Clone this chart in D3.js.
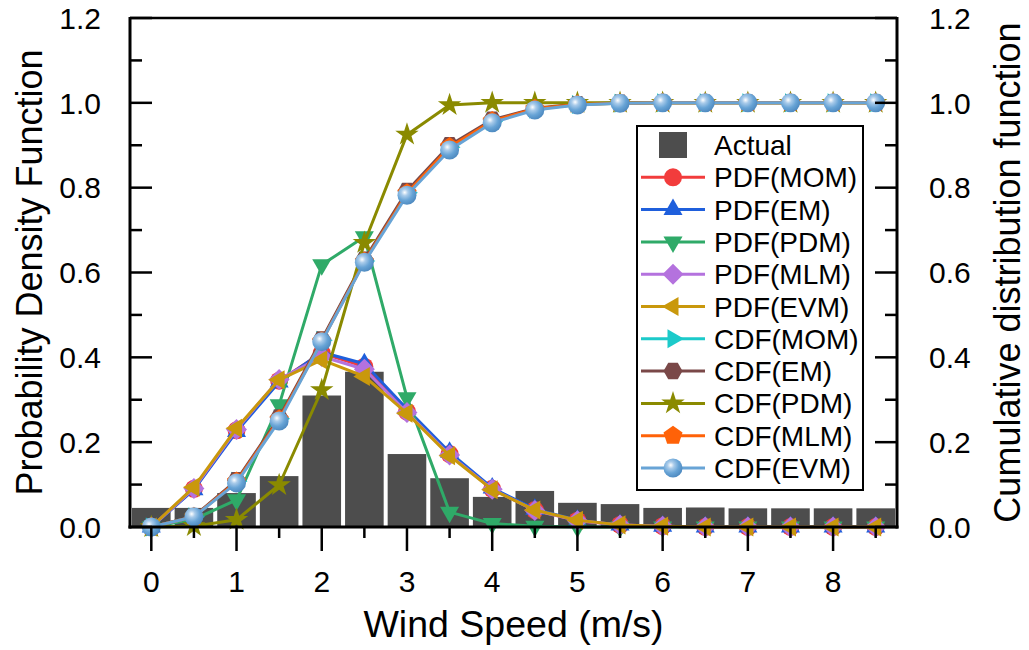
<!DOCTYPE html>
<html>
<head>
<meta charset="utf-8">
<script src="https://cdn.jsdelivr.net/npm/d3@7/dist/d3.min.js"></script>
<style>
  html, body { margin: 0; padding: 0; background: #fff; }
  svg { display: block; }
  text { font-family: "Liberation Sans", Arial, sans-serif; fill: #000; }
</style>
</head>
<body>
<svg id="chart" width="1029" height="650"></svg>
<script>
// Wind speed bins (m/s)
const speeds = [0, 0.5, 1, 1.5, 2, 2.5, 3, 3.5, 4, 4.5, 5, 5.5, 6, 6.5, 7, 7.5, 8, 8.5];

// Observed frequency (histogram)
const actual = [0.045, 0.045, 0.080, 0.120, 0.310, 0.366, 0.172, 0.115, 0.071, 0.085, 0.057, 0.054, 0.045, 0.046, 0.044, 0.044, 0.044, 0.044];

// Fitted probability density functions
const pdfMOM = [0, 0.090, 0.228, 0.345, 0.410, 0.378, 0.272, 0.172, 0.090, 0.040, 0.015, 0.005, 0.002, 0, 0, 0, 0, 0];
const pdfEM  = [0, 0.088, 0.225, 0.342, 0.412, 0.385, 0.278, 0.176, 0.092, 0.042, 0.016, 0.005, 0.002, 0, 0, 0, 0, 0];
const pdfPDM = [0, 0.018, 0.064, 0.288, 0.618, 0.684, 0.305, 0.035, 0.008, 0.002, 0, 0, 0, 0, 0, 0, 0, 0];
const pdfMLM = [0, 0.091, 0.230, 0.348, 0.402, 0.372, 0.270, 0.170, 0.089, 0.039, 0.015, 0.005, 0.002, 0, 0, 0, 0, 0];
const pdfEVM = [0, 0.094, 0.233, 0.347, 0.394, 0.355, 0.268, 0.168, 0.088, 0.040, 0.016, 0.005, 0.002, 0, 0, 0, 0, 0];

// Fitted cumulative distribution functions
const cdfMOM = [0, 0.024, 0.108, 0.255, 0.440, 0.627, 0.788, 0.895, 0.956, 0.985, 0.996, 0.999, 1, 1, 1, 1, 1, 1];
const cdfEM  = [0, 0.025, 0.110, 0.258, 0.442, 0.630, 0.792, 0.900, 0.960, 0.987, 0.997, 1, 1, 1, 1, 1, 1, 1];
const cdfPDM = [0, 0.002, 0.017, 0.099, 0.323, 0.670, 0.925, 0.995, 1, 1, 1, 1, 1, 1, 1, 1, 1, 1];
const cdfMLM = [0, 0.024, 0.107, 0.254, 0.438, 0.626, 0.787, 0.896, 0.957, 0.986, 0.996, 0.999, 1, 1, 1, 1, 1, 1];
const cdfEVM = [0, 0.024, 0.104, 0.250, 0.437, 0.624, 0.782, 0.889, 0.953, 0.983, 0.995, 0.999, 1, 1, 1, 1, 1, 1];

const xTicks = [0, 1, 2, 3, 4, 5, 6, 7, 8];
const yTicks = [0, 0.2, 0.4, 0.6, 0.8, 1.0, 1.2];

const series = [
  { name: "PDF(MOM)", values: pdfMOM, color: "#f23c3c", marker: "circle" },
  { name: "PDF(EM)",  values: pdfEM,  color: "#1f5fdc", marker: "triUp" },
  { name: "PDF(PDM)", values: pdfPDM, color: "#2faa68", marker: "triDown" },
  { name: "PDF(MLM)", values: pdfMLM, color: "#b472de", marker: "diamond" },
  { name: "PDF(EVM)", values: pdfEVM, color: "#c9980c", marker: "triLeft" },
  { name: "CDF(MOM)", values: cdfMOM, color: "#1ccaca", marker: "triRight" },
  { name: "CDF(EM)",  values: cdfEM,  color: "#7a4848", marker: "hexagon" },
  { name: "CDF(PDM)", values: cdfPDM, color: "#8a8a00", marker: "star" },
  { name: "CDF(MLM)", values: cdfMLM, color: "#ff6208", marker: "pentagon" },
  { name: "CDF(EVM)", values: cdfEVM, color: "#68a4d6", marker: "sphere" }
];

const svg = d3.select("#chart");
const plotL = 130, plotR = 897, plotT = 18, plotB = 527;

const x = d3.scaleLinear().domain([-0.25, 8.75]).range([plotL, plotR]);
const yL = d3.scaleLinear().domain([0, 1.2]).range([plotB, plotT]);
const yR = d3.scaleLinear().domain([0, 1.2]).range([plotB, plotT]);

// sphere shading
const defs = svg.append("defs");
const grad = defs.append("radialGradient").attr("id", "sphere")
  .attr("cx", "0.38").attr("cy", "0.35").attr("r", "0.7");
grad.append("stop").attr("offset", "0").attr("stop-color", "#ffffff");
grad.append("stop").attr("offset", "0.25").attr("stop-color", "#a9cbea");
grad.append("stop").attr("offset", "0.6").attr("stop-color", "#68a4d6");
grad.append("stop").attr("offset", "1").attr("stop-color", "#4a86bd");

function polygon(n, r, rot) {
  const pts = [];
  for (let i = 0; i < n; i++) {
    const a = rot + i * 2 * Math.PI / n;
    pts.push([r * Math.cos(a), r * Math.sin(a)]);
  }
  return "M" + pts.map(p => p[0].toFixed(2) + "," + p[1].toFixed(2)).join("L") + "Z";
}

function markerPath(type) {
  const R = 11;
  switch (type) {
    case "triUp":    return polygon(3, R, -Math.PI / 2);
    case "triDown":  return polygon(3, R, Math.PI / 2);
    case "triLeft":  return polygon(3, R, Math.PI);
    case "triRight": return polygon(3, R, 0);
    case "diamond":  return polygon(4, 10.5, -Math.PI / 2);
    case "hexagon":  return polygon(6, 9.5, 0);
    case "pentagon": return polygon(5, 10, -Math.PI / 2);
    case "star":     return d3.symbol(d3.symbolStar, 170)();
    default:         return null;
  }
}

function drawMarker(g, type, color, cx, cy) {
  if (type === "circle") {
    g.append("circle").attr("cx", cx).attr("cy", cy).attr("r", 9).attr("fill", color);
  } else if (type === "sphere") {
    g.append("circle").attr("cx", cx).attr("cy", cy).attr("r", 9.5).attr("fill", "url(#sphere)");
  } else {
    g.append("path").attr("d", markerPath(type))
      .attr("transform", `translate(${cx},${cy})`).attr("fill", color);
  }
}

// histogram bars
const half = (x(0.5) - x(0)) / 2;
svg.append("g").selectAll("rect").data(speeds).join("rect")
  .attr("x", (d) => x(d) - half + 2)
  .attr("width", half * 2 - 4)
  .attr("y", (d, i) => yL(actual[i]))
  .attr("height", (d, i) => yL(0) - yL(actual[i]))
  .attr("fill", "#4d4d4d");

// fitted curves
const line = d3.line();
series.forEach((s) => {
  const yS = s.name.startsWith("PDF") ? yL : yR;
  const pts = speeds.map((v, i) => [x(v), yS(s.values[i])]);
  const g = svg.append("g");
  g.append("path").attr("d", line(pts)).attr("fill", "none")
    .attr("stroke", s.color).attr("stroke-width", 3).attr("stroke-linejoin", "round");
  pts.forEach((p) => drawMarker(g, s.marker, s.color, p[0], p[1]));
});

// axes
const axisW = 3;
// frame top
svg.append("line").attr("x1", plotL).attr("x2", plotR).attr("y1", plotT).attr("y2", plotT)
  .attr("stroke", "#000").attr("stroke-width", 2.5);

// left axis
const gl = svg.append("g");
gl.append("line").attr("x1", plotL).attr("x2", plotL).attr("y1", plotT - 1).attr("y2", plotB + 1.5)
  .attr("stroke", "#000").attr("stroke-width", axisW);
d3.range(0, 13).forEach((k) => {
  const v = k / 10;
  const major = k % 2 === 0;
  gl.append("line").attr("x1", plotL).attr("x2", plotL + (major ? 22 : 12))
    .attr("y1", yL(v)).attr("y2", yL(v)).attr("stroke", "#000").attr("stroke-width", 2.5);
});
gl.selectAll("text").data(yTicks).join("text")
  .attr("x", 101).attr("y", (d) => yL(d)).attr("dy", "0.36em")
  .attr("text-anchor", "end").attr("font-size", 30)
  .text((d) => d.toFixed(1));

// right axis
const gr = svg.append("g");
gr.append("line").attr("x1", plotR).attr("x2", plotR).attr("y1", plotT - 1).attr("y2", plotB + 1.5)
  .attr("stroke", "#000").attr("stroke-width", axisW);
d3.range(0, 13).forEach((k) => {
  const v = k / 10;
  const major = k % 2 === 0;
  gr.append("line").attr("x1", plotR).attr("x2", plotR - (major ? 22 : 12))
    .attr("y1", yR(v)).attr("y2", yR(v)).attr("stroke", "#000").attr("stroke-width", 2.5);
});
gr.selectAll("text").data(yTicks).join("text")
  .attr("x", 929).attr("y", (d) => yR(d)).attr("dy", "0.36em")
  .attr("text-anchor", "start").attr("font-size", 30)
  .text((d) => d.toFixed(1));

// bottom axis
const gb = svg.append("g");
gb.append("line").attr("x1", plotL - 1.5).attr("x2", plotR + 1.5).attr("y1", plotB).attr("y2", plotB)
  .attr("stroke", "#000").attr("stroke-width", axisW);
d3.range(0, 18).forEach((k) => {
  const v = k / 2;
  const major = k % 2 === 0;
  gb.append("line").attr("x1", x(v)).attr("x2", x(v))
    .attr("y1", plotB).attr("y2", plotB + (major ? 24 : 11))
    .attr("stroke", "#000").attr("stroke-width", 2.5);
});
gb.selectAll("text").data(xTicks).join("text")
  .attr("x", (d) => x(d)).attr("y", 592)
  .attr("text-anchor", "middle").attr("font-size", 30)
  .text((d) => d);

// axis titles
svg.append("text").attr("x", (plotL + plotR) / 2).attr("y", 637)
  .attr("text-anchor", "middle").attr("font-size", 37.5).text("Wind Speed (m/s)");
svg.append("text").attr("transform", `translate(42,${(plotT + plotB) / 2}) rotate(-90)`)
  .attr("text-anchor", "middle").attr("font-size", 36).text("Probability Density Function");
svg.append("text").attr("transform", `translate(1020,${(plotT + plotB) / 2}) rotate(-90)`)
  .attr("text-anchor", "middle").attr("font-size", 36).text("Cumulative distribution function");

// legend
const lg = svg.append("g");
lg.append("rect").attr("x", 637).attr("y", 126).attr("width", 226).attr("height", 364)
  .attr("fill", "#fff").attr("stroke", "#000").attr("stroke-width", 2);
const row0 = 145, rowH = 32.3, symX = 673;
lg.append("rect").attr("x", symX - 14).attr("y", row0 - 13).attr("width", 28).attr("height", 26)
  .attr("fill", "#4d4d4d");
lg.append("text").attr("x", 714).attr("y", row0).attr("dy", "0.36em")
  .attr("font-size", 28).text("Actual");
series.forEach((s, i) => {
  const yy = row0 + (i + 1) * rowH;
  lg.append("line").attr("x1", 641).attr("x2", 705).attr("y1", yy).attr("y2", yy)
    .attr("stroke", s.color).attr("stroke-width", 3);
  drawMarker(lg, s.marker, s.color, symX, yy);
  lg.append("text").attr("x", 714).attr("y", yy).attr("dy", "0.36em")
    .attr("font-size", 28).text(s.name);
});
</script>
</body>
</html>
